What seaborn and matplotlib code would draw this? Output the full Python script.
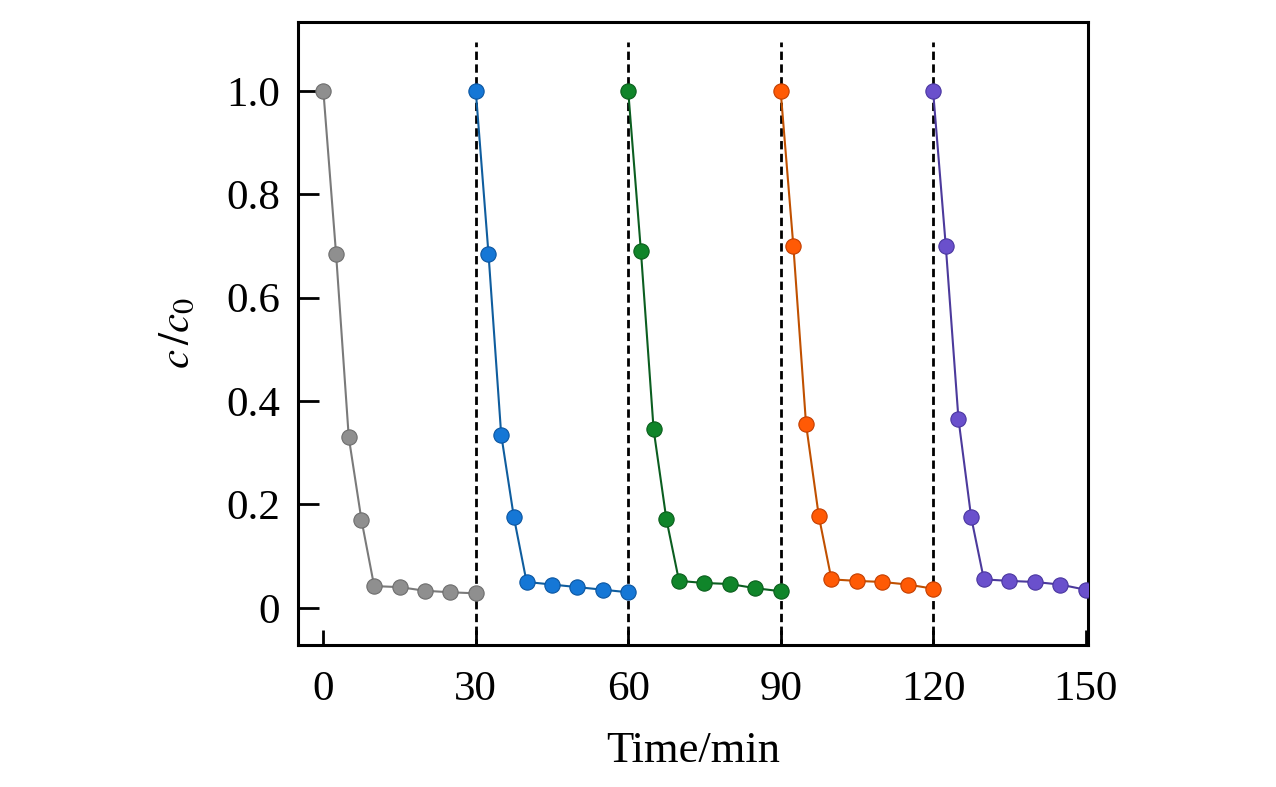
import matplotlib
matplotlib.use("Agg")
import matplotlib.pyplot as plt
import seaborn as sns
import pandas as pd

# data
t_offsets = [0, 2.5, 5, 7.5, 10, 15, 20, 25, 30]
cycle_starts = [0, 30, 60, 90, 120]
cycle1 = [1.0, 0.685, 0.33, 0.17, 0.042, 0.040, 0.033, 0.030, 0.028]
cycle2 = [1.0, 0.685, 0.335, 0.175, 0.050, 0.045, 0.040, 0.035, 0.030]
cycle3 = [1.0, 0.690, 0.345, 0.172, 0.052, 0.048, 0.046, 0.038, 0.032]
cycle4 = [1.0, 0.700, 0.355, 0.178, 0.055, 0.052, 0.050, 0.045, 0.037]
cycle5 = [1.0, 0.700, 0.365, 0.175, 0.055, 0.052, 0.050, 0.045, 0.035]
cycles = [cycle1, cycle2, cycle3, cycle4, cycle5]
colors = ["#8f8f8f", "#1577d6", "#10852a", "#ff5a05", "#6a50cc"]
edge_colors = ["#6e6e6e", "#0b55a0", "#0a5e1c", "#c23e00", "#4a36a0"]
line_colors = ["#7a7a7a", "#0f5d9e", "#0b5e20", "#c05000", "#4c3a9c"]
dividers = [30, 60, 90, 120]
xticks = [0, 30, 60, 90, 120, 150]
yticks = [0, 0.2, 0.4, 0.6, 0.8, 1.0]
ytick_labels = ["0", "0.2", "0.4", "0.6", "0.8", "1.0"]

sns.set_style("ticks")
plt.rcParams["font.family"] = ["Liberation Serif", "DejaVu Serif"]
plt.rcParams["mathtext.fontset"] = "stix"
plt.rcParams["text.color"] = "black"
plt.rcParams["axes.labelcolor"] = "black"
plt.rcParams["xtick.color"] = "black"
plt.rcParams["ytick.color"] = "black"

fig = plt.figure(figsize=(12.76, 7.87), dpi=100)
ax = fig.add_axes([0.2335, 0.1804, 0.8527 - 0.2335, 0.972 - 0.1804])

for start, vals, c, ec, lc in zip(cycle_starts, cycles, colors, edge_colors, line_colors):
    df = pd.DataFrame({"time": [start + o for o in t_offsets], "c": vals})
    sns.lineplot(data=df, x="time", y="c", ax=ax, color=lc, linewidth=1.5,
                 marker="o", markersize=11, markerfacecolor=c,
                 markeredgecolor=ec, markeredgewidth=0.8, zorder=3)

for d in dividers:
    ax.plot([d, d], [-0.1, 1.095], color="black", linestyle=(0, (3, 1.6)),
            linewidth=2, zorder=2)

ax.set_xlim(-5, 150.5)
ax.set_ylim(-0.072, 1.133)
ax.set_xticks(xticks)
ax.set_yticks(yticks)
ax.set_yticklabels(ytick_labels)
ax.tick_params(direction="in", width=2, labelsize=31, labelcolor="black", color="black")
ax.tick_params(axis="y", length=15, pad=13)
ax.tick_params(axis="x", length=11, pad=18)
for s in ax.spines.values():
    s.set_linewidth(2.2)
    s.set_color("black")

ax.set_xlabel("Time/min", fontsize=32, labelpad=16, color="black")
ax.set_ylabel(r"$c\,/c_{\mathrm{0}}$", fontsize=31, labelpad=20, color="black")

fig.savefig("out.png", dpi=100)
